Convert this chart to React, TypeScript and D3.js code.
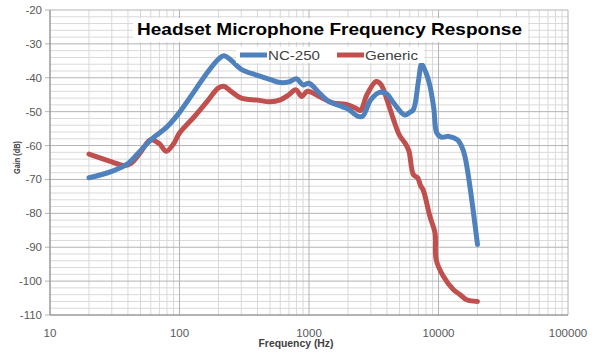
import React from "react";
import * as d3 from "d3";

const title = "Headset Microphone Frequency Response";
const seriesNames = ["NC-250", "Generic"];
const xTicks = [10, 100, 1000, 10000, 100000];
const yTicks = [-110, -100, -90, -80, -70, -60, -50, -40, -30, -20];

const ncFreq = [20, 30, 40, 50, 60, 80, 100, 130, 160, 200, 220, 250, 300, 400, 500, 600, 700, 800, 900, 1000, 1200, 1400, 1800, 2000, 2400, 2600, 3000, 3500, 4000, 4500, 5500, 6000, 6400, 7000, 7400, 8000, 8600, 9200, 9700, 10500, 12000, 14000, 15000, 16000, 20000];
const ncGain = [-69.5, -67.6, -65.3, -61.5, -58.3, -54.5, -50.2, -44, -39, -34.5, -33.5, -34.8, -37.5, -39.3, -40.5, -41.4, -41.2, -40.3, -42.1, -41.6, -44.5, -46.8, -48.5, -49.2, -51.4, -51.3, -46.5, -44.3, -44.8, -47.4, -51, -50.2, -49.4, -41, -36.1, -38.5, -42.5, -49, -56.3, -57.5, -57.3, -58.3, -60, -63.2, -89.2];

const genFreq = [20, 30, 37, 42, 50, 60, 70, 79, 90, 100, 130, 160, 200, 220, 250, 300, 400, 500, 600, 700, 790, 880, 970, 1200, 1500, 2000, 2300, 2500, 2800, 3300, 3600, 4000, 4500, 5000, 5500, 5900, 6400, 6900, 7300, 7600, 8600, 9400, 9600, 10900, 13000, 14700, 16500, 20000];
const genGain = [-62.5, -64.8, -65.9, -65.3, -62, -58.3, -59.5, -61.7, -59.5, -56.3, -51.5, -47.4, -43, -42.5, -44, -46, -46.6, -47.1, -46.5, -45, -43.5, -45.5, -44, -45.5, -47.3, -48, -49, -49.6, -45, -41.1, -42, -46.5, -52.4, -57, -59.2, -61.5, -68.6, -69.5, -72, -73, -81, -85.8, -93.7, -98.6, -102.5, -104, -105.5, -106];

const colors = ["#4F81BD", "#C0504D"];

export default function App() {
  const W = 600, H = 358;
  const x = d3.scaleLog().domain([10, 100000]).range([50, 568]);
  const y = d3.scaleLinear().domain([-110, -20]).range([315, 10]);

  const minorX: number[] = [];
  for (let d = 10; d < 100000; d *= 10) {
    for (let k = 2; k <= 9; k++) minorX.push(d * k);
  }
  const minorY: number[] = d3.range(-110, -19, 2).filter((v) => v % 10 !== 0);

  const line = d3
    .line<[number, number]>()
    .x((d) => x(d[0]))
    .y((d) => y(d[1]))
    .curve(d3.curveCatmullRom.alpha(0.5));

  const ncData: [number, number][] = ncFreq.map((f, i) => [f, ncGain[i]]);
  const genData: [number, number][] = genFreq.map((f, i) => [f, genGain[i]]);

  const font = "'Liberation Sans', Arial, sans-serif";

  return (
    <svg width={W} height={H} style={{ position: "absolute", left: 0, top: 0, background: "#fff" }}>
      <rect x={0} y={0} width={W} height={H} fill="#fff" />
      {minorY.map((v) => (
        <line key={"my" + v} x1={50} x2={568} y1={y(v)} y2={y(v)} stroke="#d9d9d9" strokeWidth={1} />
      ))}
      {minorX.map((v) => (
        <line key={"mx" + v} x1={x(v)} x2={x(v)} y1={10} y2={315} stroke="#d9d9d9" strokeWidth={1} />
      ))}
      {yTicks.map((v) => (
        <line key={"gy" + v} x1={45} x2={568} y1={y(v)} y2={y(v)} stroke="#b3b3b3" strokeWidth={1} />
      ))}
      {xTicks.map((v) => (
        <line key={"gx" + v} x1={x(v)} x2={x(v)} y1={10} y2={315} stroke="#b3b3b3" strokeWidth={1} />
      ))}
      <line x1={50} x2={50} y1={10} y2={315} stroke="#8c8c8c" />
      <line x1={50} x2={568} y1={315} y2={315} stroke="#8c8c8c" />

      {yTicks.map((v) => (
        <text key={"ty" + v} x={42} y={y(v)} dy="0.35em" textAnchor="end" fontFamily={font} fontSize={11.5} fill="#595959">
          {v}
        </text>
      ))}
      {xTicks.map((v) => (
        <text key={"tx" + v} x={x(v)} y={337} textAnchor="middle" fontFamily={font} fontSize={11.5} fill="#595959">
          {v}
        </text>
      ))}

      <path d={line(genData) || ""} fill="none" stroke={colors[1]} strokeWidth={5} strokeLinejoin="round" strokeLinecap="round" />
      <path d={line(ncData) || ""} fill="none" stroke={colors[0]} strokeWidth={5} strokeLinejoin="round" strokeLinecap="round" />

      <rect x={133} y={18} width={395} height={24} fill="#fff" />
      <text x={137} y={35} fontFamily={font} fontWeight="bold" fontSize={17} fill="#000" textLength={385} lengthAdjust="spacingAndGlyphs">
        {title}
      </text>

      <rect x={236} y={47} width={188} height={16} fill="#fff" />
      <line x1={240} x2={267} y1={55} y2={55} stroke={colors[0]} strokeWidth={5} />
      <text x={268} y={59.5} fontFamily={font} fontSize={13} fill="#404040" textLength={52} lengthAdjust="spacingAndGlyphs">
        {seriesNames[0]}
      </text>
      <line x1={337} x2={364} y1={55} y2={55} stroke={colors[1]} strokeWidth={5} />
      <text x={365} y={59.5} fontFamily={font} fontSize={13} fill="#404040" textLength={53} lengthAdjust="spacingAndGlyphs">
        {seriesNames[1]}
      </text>

      <text x={296} y={347} textAnchor="middle" fontFamily={font} fontWeight="bold" fontSize={10} fill="#404040" textLength={75} lengthAdjust="spacingAndGlyphs">
        Frequency (Hz)
      </text>
      <text
        transform="translate(20,157.5) rotate(-90)"
        textAnchor="middle"
        fontFamily={font}
        fontWeight="bold"
        fontSize={9}
        fill="#404040"
        textLength={33}
        lengthAdjust="spacingAndGlyphs"
      >
        Gain (dB)
      </text>
    </svg>
  );
}
